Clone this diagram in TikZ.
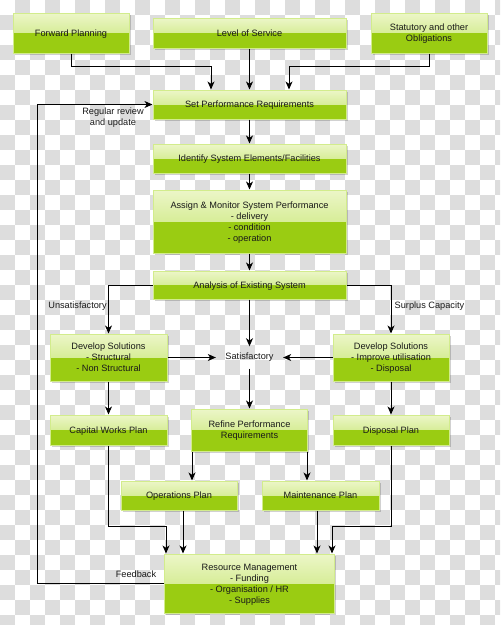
\documentclass[tikz,border=0pt]{standalone}
\usepackage{fontspec}
\setmainfont{Liberation Sans}
\usetikzlibrary{arrows.meta,shadows,calc}
\definecolor{chk}{RGB}{221,221,221}
\definecolor{gtop}{RGB}{236,246,200}
\definecolor{gmid}{RGB}{194,228,104}
\definecolor{gbot}{RGB}{154,204,18}
\definecolor{gborder}{RGB}{210,236,140}
\begin{document}
\begin{tikzpicture}[x=0.75pt,y=-0.75pt,
  txt/.style={font=\fontsize{6.9}{8.2}\selectfont, text=black!90},
  gbox/.style={txt, draw=gborder, line width=0.75pt, inner sep=2pt, align=center, text depth=0pt,
    drop shadow={shadow xshift=1.2pt, shadow yshift=-1.2pt, fill=black, opacity=0.18},
    path picture={
      \fill[top color=gtop, bottom color=gmid] (path picture bounding box.north west) rectangle (path picture bounding box.east);
      \fill[gbot] (path picture bounding box.west) rectangle (path picture bounding box.south east);}},
  lbl/.style={txt, inner sep=0pt, align=center},
  arr/.style={line width=0.75pt, -{Stealth[length=6pt,width=5.2pt,inset=1.7pt]}},
  ln/.style={line width=0.75pt}]
\useasboundingbox (0,0) rectangle (500,625);
% checkerboard background
\begin{scope}
\clip (0,0) rectangle (500,625);
\fill[white] (0,0) rectangle (500,625);
\foreach \i in {0,...,33}{
  \foreach \j in {0,...,41}{
    \pgfmathtruncatemacro\p{mod(\i+\j,2)}
    \ifnum\p=1 \fill[chk] (\i*15,\j*15) rectangle ++(15,15);\fi
  }}
\end{scope}
% boxes
\node[gbox, minimum width=87pt, minimum height=30pt] (fp) at (71,33) {Forward Planning};
\node[gbox, minimum width=144.75pt, minimum height=22.5pt] (los) at (249.5,33) {Level of Service};
\node[gbox, minimum width=87pt, minimum height=30pt] (stat) at (429,33) {Statutory and other\\Obligations};
\node[gbox, minimum width=144.75pt, minimum height=21.75pt] (spr) at (249.5,104.5) {Set Performance Requirements};
\node[gbox, minimum width=144.75pt, minimum height=21.75pt] (ise) at (249.5,158.5) {Identify System Elements/Facilities};
\node[gbox, minimum width=144.75pt, minimum height=47.25pt] (amp) at (249.5,221.5) {Assign \& Monitor System Performance\\- delivery\\- condition\\- operation};
\node[gbox, minimum width=144.75pt, minimum height=21pt] (aes) at (249.5,285) {Analysis of Existing System};
\node[gbox, minimum width=87.75pt, minimum height=35.25pt] (dsl) at (108.5,357.5) {Develop Solutions\\- Structural\\- Non Structural};
\node[gbox, minimum width=87pt, minimum height=35.25pt] (dsr) at (391,357.5) {Develop Solutions\\- Improve utilisation\\- Disposal};
\node[gbox, minimum width=87.75pt, minimum height=22.5pt] (cwp) at (108.5,430) {Capital Works Plan};
\node[gbox, minimum width=87pt, minimum height=22.5pt] (dp) at (391,430) {Disposal Plan};
\node[gbox, minimum width=87pt, minimum height=31.5pt] (rpr) at (249.5,430) {Refine Performance\\Requirements};
\node[gbox, minimum width=87pt, minimum height=21.75pt] (op) at (179,495.5) {Operations Plan};
\node[gbox, minimum width=87.75pt, minimum height=21.75pt] (mp) at (320.5,495.5) {Maintenance Plan};
\node[gbox, minimum width=127.5pt, minimum height=44.25pt] (rm) at (249.5,583.5) {Resource Management\\- Funding\\- Organisation / HR\\- Supplies};
% labels
\node[lbl, inner xsep=7pt, inner ysep=5pt] (sat) at (249.5,357.5) {Satisfactory};
\node[lbl] (rr) at (113,117.5) {Regular review\\and update};
\node[lbl] (fbl) at (136,574) {Feedback};
\node[lbl] (uns) at (77.5,306) {Unsatisfactory};
\node[lbl] (sur) at (429.5,306) {Surplus Capacity};
% junction coordinates
\coordinate (j1) at (211,66);
\coordinate (j2) at (289,66);
\coordinate (xa) at (192,0);
\coordinate (xb) at (307,0);
\coordinate (xc) at (183,0);
\coordinate (xd) at (317,0);
\coordinate (j3) at (166,526);
\coordinate (j4) at (332,526);
\coordinate (fbx) at (37,0);
% connectors
\draw[arr] (fp.south) |- (j1) -- (j1 |- spr.north);
\draw[arr] (los.south) -- (spr.north);
\draw[arr] (stat.south) |- (j2) -- (j2 |- spr.north);
\draw[arr] (spr.south) -- (ise.north);
\draw[arr] (ise.south) -- (amp.north);
\draw[arr] (amp.south) -- (aes.north);
\draw[arr] (aes.west) -| (dsl.north);
\draw[arr] (aes.east) -| (dsr.north);
\draw[arr] (aes.south) -- (sat.north);
\draw[arr] (sat.south) -- (rpr.north);
\draw[arr] (dsl.east) -- (sat.west);
\draw[arr] (dsr.west) -- (sat.east);
\draw[arr] (dsl.south) -- (cwp.north);
\draw[arr] (dsr.south) -- (dp.north);
\draw[arr] (rpr.south -| xa) -- (op.north -| xa);
\draw[arr] (rpr.south -| xb) -- (mp.north -| xb);
\draw[arr] (cwp.south) |- (j3) -- (j3 |- rm.north);
\draw[arr] (op.south -| xc) -- (rm.north -| xc);
\draw[arr] (mp.south -| xd) -- (rm.north -| xd);
\draw[arr] (dp.south) |- (j4) -- (j4 |- rm.north);
\draw[arr] (rm.west) -- (rm.west -| fbx) -- (spr.west -| fbx) -- (spr.west);
\end{tikzpicture}
\end{document}
